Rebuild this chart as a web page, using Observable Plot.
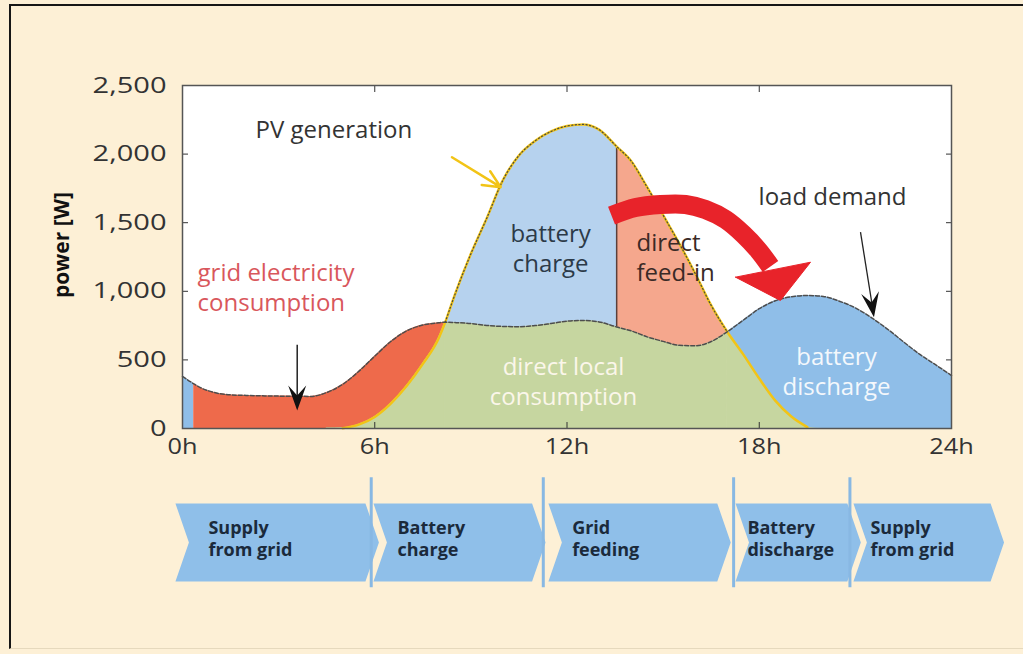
<!DOCTYPE html>
<html><head><meta charset="utf-8">
<script src="https://cdn.jsdelivr.net/npm/d3@7"></script>
<script src="https://cdn.jsdelivr.net/npm/@observablehq/plot@0.6"></script>
<style>
html,body{margin:0;padding:0;background:#fdf0d6;}
#page{position:relative;width:1023px;height:654px;overflow:hidden;background:#fdf0d6;font-family:"Open Sans",Lato,sans-serif;}
#border{position:absolute;left:9px;top:4px;width:1030px;height:645px;border-top:2px solid #161616;border-left:2px solid #161616;border-bottom:1px solid #e6d9bd;box-sizing:border-box;}
#chart{position:absolute;left:0;top:0;}
#flow{position:absolute;left:0;top:462px;}
</style></head><body>
<div id="page"><div id="border"></div><div id="chart"></div><div id="flow"></div></div>
<script>
// ---- data (hours of day, watts) ----
const hours = [0,0.35,0.5,1,1.5,2,2.5,3,3.5,4,4.5,5,5.5,6,6.5,7,7.5,8,8.2,8.5,9,9.5,10,10.5,11,11.5,12,12.5,13,13.55,14,14.5,15,15.5,16,16.5,17,17.5,18,18.5,19,19.5,20,20.5,21,21.5,22,22.5,23,23.5,24];
const loadDemand = [380,326,305,262,245,241,238,236,235,234,262,322,416,527,634,712,754,770,775,772,765,751,744,742,750,765,782,787,777,740,712,668,635,606,603,634,705,789,873,931,960,969,962,928,879,808,725,632,542,465,386];
const pvGeneration = [0,0,0,0,0,0,0,0,0,0,0,2,28,84,181,311,471,660,775,975,1273,1535,1810,1990,2095,2165,2205,2216,2178,2055,1950,1759,1555,1350,1130,897,705,540,364,203,87,10,0,0,0,0,0,0,0,0,0];

const yTicks = [0,500,1000,1500,2000,2500];
const xTicks = [0,6,12,18,24];

// phase boundaries (hours)
const batteryEmptyHour = 0.35;
const pvMeetsLoadHour = 8.2;
const chargeEndHour = 13.55;
const pvBelowLoadHour = 17;

// red curved arrow (hours, W)
const arcHours = [13.39,14.14,14.92,15.70,16.32,16.95,17.51,17.98,18.35];
const arcWatts = [1552,1611,1633,1633,1596,1523,1414,1297,1181];
const headHours = [17.26,18.66,19.6,17.26];
const headWatts = [1103,933,1212,1103];

// annotation arrows
const gridArrow = {x: 3.58, y1: 610, y2: 131};
const loadArrow = {x1: 21.16, y1: 1431, x2: 21.58, y2: 811};
const pvArrow = {x1: 8.41, y1: 1977, x2: 9.93, y2: 1759};

// labels
const labels = [
  {x: 2.28, y: 2187, text: "PV generation", anchor: "start", fill: "#333333"},
  {x: 11.49, y: 1319, text: "battery\ncharge", anchor: "middle", fill: "#2c3a48"},
  {x: 14.17, y: 1257, text: "direct\nfeed-in", anchor: "start", fill: "#3a2a26"},
  {x: 17.98, y: 1698, text: "load demand", anchor: "start", fill: "#333333"},
  {x: 0.47, y: 1039, text: "grid electricity\nconsumption", anchor: "start", fill: "#d9575c"},
  {x: 11.89, y: 350, text: "direct local\nconsumption", anchor: "middle", fill: "#fbf6ea"},
  {x: 20.41, y: 426, text: "battery\ndischarge", anchor: "middle", fill: "#f4f8fc"}
];

// bottom phase chevrons (hours)
const phaseNames = ["Supply\nfrom grid","Battery\ncharge","Grid\nfeeding","Battery\ndischarge","Supply\nfrom grid"];
const phaseStart = [-0.22,5.96,11.42,17.26,20.94];
const phaseEnd = [5.71,10.91,16.69,20.75,25.22];
const phaseTextX = [0.81,6.71,12.16,17.63,21.47];
const phaseDividers = [5.89,11.26,17.2,20.83];

// ---- build ----
const rows = hours.map((h,i) => ({h, load: loadDemand[i], pv: pvGeneration[i]}));
const between = (a,b) => rows.filter(d => d.h >= a - 1e-9 && d.h <= b + 1e-9);
const C = {
  grid: "#ee6a4b", green: "#c6d6a0", charge: "#b6d2ee", feed: "#f5a78d", discharge: "#8fbee8",
  red: "#e8232a", yellow: "#f2c416", chevron: "#8fbfe9"
};
const curve = "monotone-x";
const dart = {draw(ctx){ ctx.moveTo(0,0); ctx.lineTo(-9,-25); ctx.lineTo(0,-15); ctx.lineTo(9,-25); ctx.closePath(); }};
const arc = arcHours.map((h,i)=>({h, w: arcWatts[i]}));
const head = headHours.map((h,i)=>({h, w: headWatts[i]}));
const splitRow = rows.find(d => d.h === chargeEndHour);
const textOpts = {x: "x", y: "y", text: "text", fill: "fill", fontSize: 24, lineHeight: 1.25, lineAnchor: "middle"};

const chart = Plot.plot({
  width: 1023, height: 462,
  marginLeft: 182, marginRight: 72, marginTop: 85, marginBottom: 34,
  x: {domain: [0,24]},
  y: {domain: [0,2500]},
  style: {fontFamily: '"Open Sans", sans-serif', color: "#333", background: "transparent", overflow: "visible"},
  marks: [
    Plot.frame({fill: "white", stroke: null}),
    Plot.areaY(between(0, batteryEmptyHour), {x: "h", y1: 0, y2: "load", fill: C.discharge, curve}),
    Plot.areaY(between(batteryEmptyHour, pvMeetsLoadHour), {x: "h", y1: "pv", y2: "load", fill: C.grid, curve}),
    Plot.areaY(between(4.5, pvMeetsLoadHour), {x: "h", y1: 0, y2: "pv", fill: C.green, stroke: C.green, strokeWidth: 0.8, curve}),
    Plot.areaY(between(pvMeetsLoadHour, pvBelowLoadHour), {x: "h", y1: 0, y2: "load", fill: C.green, stroke: C.green, strokeWidth: 0.8, curve}),
    Plot.areaY(between(pvBelowLoadHour, 20), {x: "h", y1: 0, y2: "pv", fill: C.green, stroke: C.green, strokeWidth: 0.8, curve}),
    Plot.areaY(between(pvMeetsLoadHour, chargeEndHour), {x: "h", y1: "load", y2: "pv", fill: C.charge, curve}),
    Plot.areaY(between(chargeEndHour, pvBelowLoadHour), {x: "h", y1: "load", y2: "pv", fill: C.feed, curve}),
    Plot.areaY(between(pvBelowLoadHour, 24), {x: "h", y1: "pv", y2: "load", fill: C.discharge, curve}),
    Plot.ruleX([splitRow], {x: "h", y1: "load", y2: "pv", stroke: "#5b3f3a", strokeWidth: 1.5}),
    Plot.line(between(5, 19.5), {x: "h", y: "pv", stroke: C.yellow, strokeWidth: 2.5, curve}),
    Plot.line(between(pvMeetsLoadHour, pvBelowLoadHour), {x: "h", y: "pv", stroke: "#4a4a40", strokeWidth: 1.2, strokeDasharray: "1.2,2.4", curve}),
    Plot.line(rows, {x: "h", y: "load", stroke: "#4d4d4d", strokeWidth: 1.5, strokeDasharray: "4,2", curve}),
    // red curved arrow
    Plot.line(arc, {x: "h", y: "w", stroke: C.red, strokeWidth: 19, strokeLinecap: "butt", strokeLinejoin: "round", curve: "catmull-rom"}),
    Plot.line(head, {x: "h", y: "w", fill: C.red, stroke: C.red, strokeWidth: 1}),
    // black pointer arrows
    Plot.link([gridArrow], {x1: "x", x2: "x", y1: "y1", y2: d => d.y2 + 80, stroke: "#222", strokeWidth: 1.5}),
    Plot.dot([gridArrow], {x: "x", y: "y2", symbol: dart, fill: "#111", stroke: "none"}),
    Plot.link([loadArrow], {x1: "x1", y1: "y1", x2: d => d.x2 - 0.05, y2: d => d.y2 + 80, stroke: "#222", strokeWidth: 1.3}),
    Plot.dot([loadArrow], {x: "x2", y: "y2", symbol: dart, fill: "#111", stroke: "none", rotate: -9}),
    Plot.arrow([pvArrow], {x1: "x1", y1: "y1", x2: "x2", y2: "y2", stroke: C.yellow, strokeWidth: 2.5, headLength: 14, headAngle: 50}),
    // labels
    Plot.text(labels.filter(d => d.anchor === "start"), {...textOpts, textAnchor: "start"}),
    Plot.text(labels.filter(d => d.anchor === "middle"), {...textOpts, textAnchor: "middle"}),
    Plot.text(["power [W]"], {frameAnchor: "left", dx: -120, dy: -12, rotate: -90, textAnchor: "middle", fontSize: 21, fontWeight: "bold", fill: "#111"}),
    // axes with inward ticks
    Plot.axisY({anchor: "left", ticks: yTicks, tickFormat: d3.format(","), tickSize: -6, tickPadding: 22, fontSize: 22, fill: "#333"}),
    Plot.axisY({anchor: "right", ticks: yTicks, tickFormat: () => "", tickSize: -6}),
    Plot.axisX({anchor: "bottom", ticks: xTicks, tickFormat: d => d + "h", tickSize: -6, tickPadding: 16, fontSize: 22, fill: "#333"}),
    Plot.axisX({anchor: "top", ticks: xTicks, tickFormat: () => "", tickSize: -6}),
    Plot.frame({stroke: "#555", strokeWidth: 1.5})
  ]
});
function stretch(svg, selector, k){
  svg.querySelectorAll(selector).forEach(t => {
    const tr = t.getAttribute("transform") || "";
    t.setAttribute("transform", tr + ` scale(${k},1)`);
  });
}
stretch(chart, 'g[aria-label="y-axis tick label"] text', 1.32);
stretch(chart, 'g[aria-label="x-axis tick label"] text', 1.15);
document.getElementById("chart").append(chart);

// chevrons
const tip = 0.42;
const chevronPts = [];
phaseStart.forEach((L,i) => {
  const R = phaseEnd[i];
  [[L,1],[R,1],[R+tip,0.5],[R,0],[L,0],[L+tip,0.5],[L,1]].forEach(([x,y]) => chevronPts.push({id: i, x, y}));
});
const phaseLabels = phaseNames.map((t,i) => ({x: phaseTextX[i], t}));
const flow = Plot.plot({
  width: 1023, height: 192,
  marginLeft: 182, marginRight: 72, marginTop: 41, marginBottom: 73,
  x: {domain: [0,24], axis: null},
  y: {domain: [0,1], axis: null},
  style: {fontFamily: '"Open Sans", sans-serif', background: "transparent", overflow: "visible"},
  marks: [
    Plot.line(chevronPts, {x: "x", y: "y", z: "id", fill: C.chevron, stroke: null}),
    Plot.ruleX(phaseDividers, {x: d => d, y1: -0.08, y2: 1.33, stroke: "#88b8e3", strokeWidth: 3}),
    Plot.text(phaseLabels, {x: "x", y: 0.56, text: "t", textAnchor: "start", lineAnchor: "middle", fontSize: 18, fontWeight: "bold", lineHeight: 1.25, fill: "#1b2a3b"})
  ]
});
document.getElementById("flow").append(flow);
</script>
</body></html>
